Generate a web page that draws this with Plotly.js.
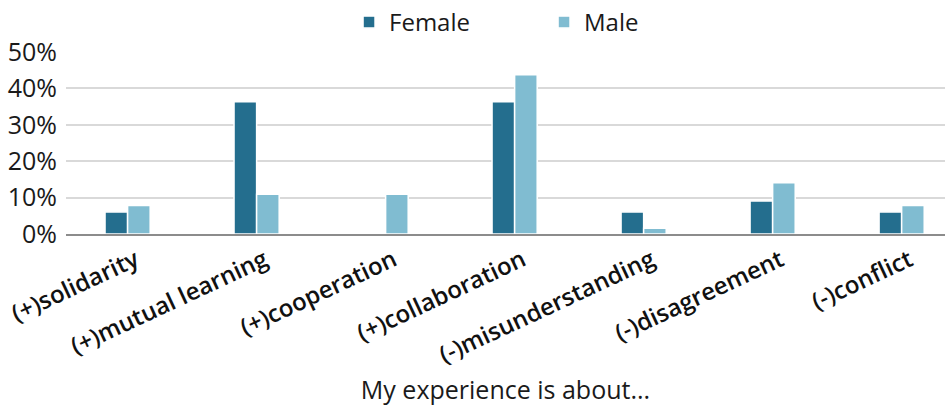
<!DOCTYPE html>
<html>
<head>
<meta charset="utf-8">
<script src="https://cdn.plot.ly/plotly-3.0.1.min.js"></script>
<style>html,body{margin:0;padding:0;overflow:hidden;background:#fff;}</style>
</head>
<body>
<div id="chart" style="width:945px;height:406px;"></div>
<script>
const categories = ["(+)solidarity", "(+)mutual learning", "(+)cooperation", "(+)collaboration", "(-)misunderstanding", "(-)disagreement", "(-)conflict"];
const female = [6.06, 36.36, 0, 36.36, 6.06, 9.09, 6.06];
const male = [7.81, 10.94, 10.94, 43.75, 1.56, 14.06, 7.81];
const yTicks = [0, 10, 20, 30, 40, 50];
const yTickText = ["0%", "10%", "20%", "30%", "40%", "50%"];

const FONT = "Open Sans, Noto Sans, sans-serif";
const traces = [
  {type: "bar", name: "Female", x: categories, y: female,
   marker: {color: "#246E8E", line: {color: "#ffffff", width: 1.5}}, hoverinfo: "none"},
  {type: "bar", name: "Male", x: categories, y: male,
   marker: {color: "#80BCD1", line: {color: "#ffffff", width: 1.5}}, hoverinfo: "none"}
];
const layout = {
  width: 945, height: 406,
  margin: {l: 66, r: 0, t: 52, b: 172},
  paper_bgcolor: "#fff", plot_bgcolor: "#fff",
  barmode: "group", bargap: 0.65, bargroupgap: 0,
  font: {family: FONT, color: "#1a1a1a"},
  showlegend: true,
  legend: {orientation: "h", x: 0.322, xanchor: "left", y: 1.165, yanchor: "middle",
           font: {size: 24, family: FONT, color: "#1a1a1a"}, entrywidth: 150, traceorder: "normal"},
  xaxis: {
    type: "category", range: [-0.4775, 6.336],
    tickangle: -25, tickfont: {size: 24, family: FONT, color: "#111", weight: 600},
    showgrid: false, showline: true, linecolor: "#8c8c8c", linewidth: 2,
    ticks: "", automargin: false, ticklabelstandoff: 1, ticklabelshift: 8,
    title: {text: "My experience is about...", font: {size: 25, family: FONT, color: "#1a1a1a"}, standoff: 18}
  },
  yaxis: {
    range: [0, 50], tickvals: yTicks, ticktext: yTickText,
    tickfont: {size: 25, family: FONT, color: "#1a1a1a"},
    showgrid: true, gridcolor: "#d9d9d9", gridwidth: 2,
    zeroline: false, showline: false, ticks: "", ticklabelstandoff: 8, automargin: false
  }
};
Plotly.newPlot("chart", traces, layout, {displayModeBar: false, staticPlot: true});
</script>
</body>
</html>
